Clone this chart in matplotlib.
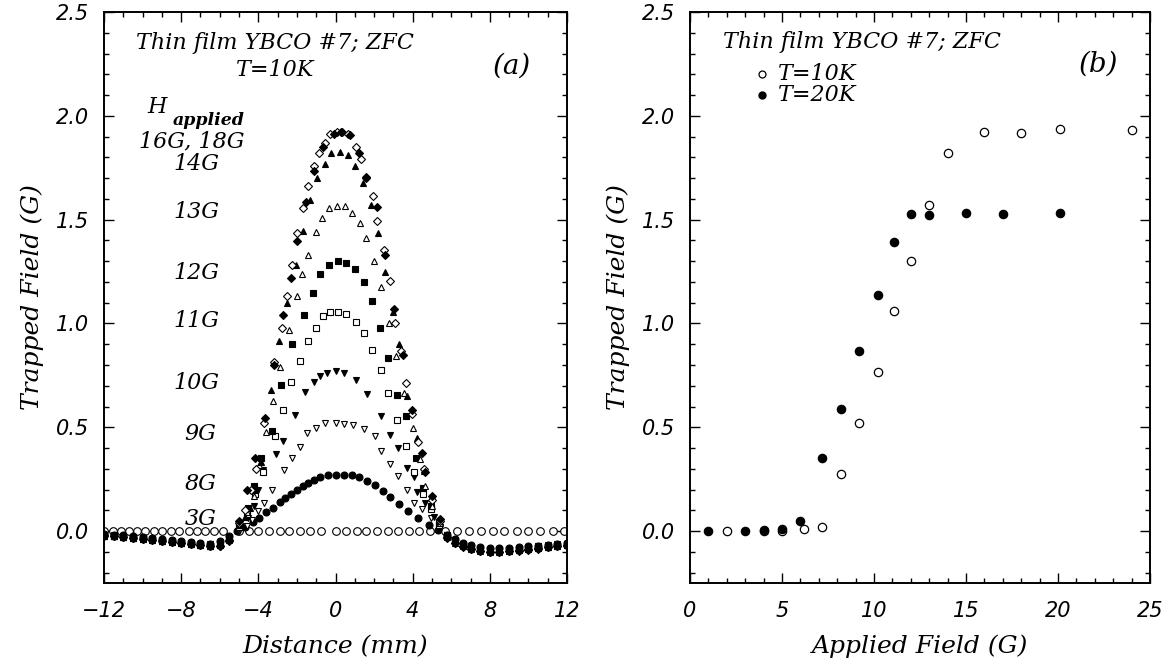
import matplotlib
matplotlib.use("Agg")
import matplotlib.pyplot as plt
from matplotlib.ticker import MultipleLocator

FONT = "DejaVu Serif"
TICKFONT = "DejaVu Sans"

# ---------------- Panel (a) data: trapped-field profiles ----------------
TAIL_L_X = [-12.0, -11.5, -11.0, -10.5, -10.0, -9.5, -9.0, -8.5, -8.0, -7.5, -7.0, -6.5, -6.0, -5.5]
TAIL_R_X = [5.8, 6.2, 6.6, 7.0, 7.5, 8.0, 8.5, 9.0, 9.5, 10.0, 10.5, 11.0, 11.5, 12.0]

g3_x = [-12.0, -11.55, -11.1, -10.7, -10.3, -9.85, -9.4, -9.0, -8.55, -8.1, -7.6, -7.2, -6.75, -6.3,
        -5.85, -5.0, -4.5, -4.0, -3.45, -2.9, -2.4, -1.85, -1.3, -0.75, 0.0, 0.55, 1.1, 1.6, 2.15,
        2.7, 3.25, 3.8, 4.35, 4.9, 5.7, 6.3, 6.9, 7.55, 8.15, 8.75, 9.4, 10.0, 10.6, 11.25, 11.85]
g3_y = [0.0] * 45

g8_x = [-5.1, -4.7, -4.3, -3.95, -3.6, -3.25, -2.9, -2.6, -2.3, -2.0, -1.7, -1.4, -1.1, -0.8, -0.4,
        0.0, 0.45, 0.85, 1.2, 1.65, 2.05, 2.45, 2.85, 3.3, 3.75, 4.3, 4.85, 5.3]
g8_y = [0.0, 0.02, 0.045, 0.065, 0.09, 0.112, 0.14, 0.16, 0.18, 0.2, 0.217, 0.232, 0.248, 0.26, 0.268,
        0.27, 0.272, 0.268, 0.262, 0.24, 0.221, 0.192, 0.165, 0.131, 0.096, 0.061, 0.03, 0.005]
g8_tl = [-0.015, -0.017, -0.02, -0.024, -0.028, -0.032, -0.037, -0.042, -0.047, -0.052, -0.057, -0.06, -0.05, -0.025]
g8_tr = [-0.02, -0.04, -0.055, -0.065, -0.075, -0.08, -0.082, -0.08, -0.077, -0.073, -0.07, -0.066, -0.062, -0.058]

g9_x = [-5.0, -4.6, -4.34, -4.02, -3.69, -3.29, -2.68, -2.24, -1.86, -1.47, -1.0, -0.52, 0.0, 0.44,
        0.92, 1.5, 2.07, 2.35, 2.8, 3.25, 3.7, 4.08, 4.5, 4.94, 5.4]
g9_y = [0.0, 0.025, 0.053, 0.096, 0.136, 0.196, 0.296, 0.353, 0.405, 0.473, 0.497, 0.52, 0.52, 0.518,
        0.51, 0.49, 0.457, 0.385, 0.325, 0.264, 0.196, 0.136, 0.104, 0.064, 0.02]
g9_tl = [-0.018, -0.02, -0.023, -0.027, -0.031, -0.036, -0.041, -0.046, -0.051, -0.056, -0.061, -0.064, -0.055, -0.03]
g9_tr = [-0.025, -0.045, -0.06, -0.07, -0.08, -0.085, -0.086, -0.084, -0.08, -0.076, -0.072, -0.068, -0.064, -0.06]

g10_x = [-5.0, -4.54, -4.25, -4.0, -3.77, -3.1, -2.72, -2.1, -1.57, -1.09, -0.8, -0.42, 0.0, 0.44,
         1.05, 1.65, 2.35, 2.8, 3.25, 3.7, 4.08, 4.23, 4.65, 5.1, 5.4]
g10_y = [0.01, 0.064, 0.12, 0.2, 0.296, 0.369, 0.433, 0.56, 0.67, 0.72, 0.745, 0.76, 0.77, 0.76,
         0.73, 0.66, 0.556, 0.465, 0.40, 0.304, 0.26, 0.19, 0.136, 0.07, 0.02]
g10_tl = [-0.02, -0.022, -0.025, -0.029, -0.033, -0.038, -0.043, -0.048, -0.053, -0.058, -0.063, -0.067, -0.06, -0.035]
g10_tr = [-0.02, -0.045, -0.062, -0.074, -0.085, -0.09, -0.09, -0.088, -0.084, -0.079, -0.074, -0.07, -0.066, -0.062]

g11_x = [-5.0, -4.6, -4.15, -3.77, -3.14, -2.72, -2.3, -1.86, -1.44, -1.03, -0.65, -0.27, 0.11, 0.57,
         1.07, 1.49, 1.88, 2.35, 2.74, 3.21, 3.64, 4.08, 4.55, 4.94, 5.35]
g11_y = [0.02, 0.08, 0.18, 0.285, 0.457, 0.585, 0.716, 0.82, 0.917, 0.978, 1.034, 1.053, 1.055, 1.045,
         1.005, 0.953, 0.873, 0.777, 0.665, 0.534, 0.412, 0.285, 0.18, 0.104, 0.03]
g11_tl = [-0.02, -0.023, -0.026, -0.03, -0.034, -0.039, -0.044, -0.049, -0.054, -0.059, -0.064, -0.068, -0.062, -0.035]
g11_tr = [-0.02, -0.045, -0.064, -0.077, -0.088, -0.093, -0.093, -0.09, -0.086, -0.081, -0.076, -0.071, -0.067, -0.063]

g12_x = [-5.0, -4.54, -4.25, -3.84, -3.3, -2.81, -2.24, -1.63, -1.19, -0.8, -0.36, 0.11, 0.57, 1.02,
         1.49, 1.88, 2.3, 2.7, 3.21, 3.64, 4.17, 4.55, 4.95, 5.35]
g12_y = [0.03, 0.11, 0.216, 0.35, 0.48, 0.705, 0.90, 1.04, 1.147, 1.236, 1.28, 1.30, 1.293, 1.264,
         1.2, 1.107, 0.98, 0.833, 0.654, 0.553, 0.353, 0.208, 0.12, 0.04]
g12_tl = [-0.021, -0.024, -0.027, -0.031, -0.035, -0.04, -0.045, -0.05, -0.055, -0.06, -0.065, -0.07, -0.064, -0.038]
g12_tr = [-0.025, -0.05, -0.067, -0.08, -0.09, -0.095, -0.095, -0.092, -0.088, -0.083, -0.078, -0.073, -0.068, -0.064]

g13_x = [-5.0, -4.6, -4.25, -3.96, -3.58, -3.23, -2.87, -2.43, -2.01, -1.76, -1.44, -1.03, -0.71, -0.36,
         0.06, 0.48, 0.84, 1.25, 1.59, 1.97, 2.36, 2.78, 3.16, 3.56, 4.02, 4.36, 4.65, 5.0, 5.4]
g13_y = [0.03, 0.09, 0.168, 0.32, 0.478, 0.628, 0.788, 0.97, 1.131, 1.236, 1.33, 1.44, 1.506, 1.555,
         1.568, 1.566, 1.534, 1.485, 1.41, 1.30, 1.175, 1.0, 0.841, 0.665, 0.497, 0.345, 0.216, 0.12, 0.04]
g13_tl = [-0.022, -0.025, -0.028, -0.032, -0.036, -0.041, -0.046, -0.051, -0.056, -0.061, -0.066, -0.071, -0.066, -0.04]
g13_tr = [-0.025, -0.05, -0.068, -0.082, -0.092, -0.097, -0.097, -0.094, -0.09, -0.085, -0.08, -0.075, -0.07, -0.066]

g14_x = [-5.0, -4.7, -4.44, -4.15, -3.87, -3.35, -2.91, -2.53, -2.05, -1.7, -1.32, -0.94, -0.52, -0.23,
         0.21, 0.63, 1.02, 1.44, 1.82, 2.2, 2.59, 2.99, 3.3, 3.7, 4.23, 4.6, 5.0, 5.4]
g14_y = [0.03, 0.07, 0.112, 0.2, 0.333, 0.68, 0.917, 1.097, 1.28, 1.447, 1.595, 1.70, 1.77, 1.819,
         1.825, 1.81, 1.76, 1.676, 1.571, 1.434, 1.247, 1.053, 0.9, 0.649, 0.449, 0.29, 0.168, 0.06]
g14_tl = [-0.022, -0.025, -0.029, -0.033, -0.037, -0.042, -0.047, -0.052, -0.057, -0.062, -0.067, -0.072, -0.068, -0.042]
g14_tr = [-0.03, -0.055, -0.072, -0.085, -0.095, -0.1, -0.1, -0.097, -0.092, -0.087, -0.082, -0.077, -0.072, -0.068]

g16_x = [-5.0, -4.7, -4.4, -4.1, -3.7, -3.2, -2.78, -2.53, -2.24, -2.01, -1.67, -1.42, -1.13, -0.84,
         -0.55, -0.29, 0.06, 0.35, 0.63, 1.05, 1.3, 1.6, 1.92, 2.16, 2.51, 2.8, 3.1, 3.37, 3.64, 3.98,
         4.27, 4.6, 5.0, 5.4]
g16_y = [0.04, 0.1, 0.2, 0.3, 0.52, 0.814, 0.976, 1.134, 1.28, 1.434, 1.555, 1.66, 1.757, 1.82,
         1.867, 1.911, 1.924, 1.92, 1.911, 1.85, 1.793, 1.7, 1.612, 1.494, 1.353, 1.204, 1.0, 0.869,
         0.713, 0.564, 0.43, 0.3, 0.15, 0.05]
g16_tl = [-0.02, -0.024, -0.028, -0.032, -0.037, -0.042, -0.047, -0.052, -0.057, -0.062, -0.068, -0.073, -0.07, -0.045]
g16_tr = [-0.03, -0.055, -0.073, -0.086, -0.096, -0.1, -0.1, -0.098, -0.093, -0.088, -0.083, -0.078, -0.073, -0.069]

g18_x = [-5.0, -4.6, -4.15, -3.64, -3.2, -2.7, -2.3, -2.01, -1.53, -1.09, -0.65, -0.1, 0.31, 0.73,
         1.21, 1.59, 2.16, 2.55, 3.05, 3.5, 3.98, 4.46, 4.65, 5.0, 5.4]
g18_y = [0.05, 0.2, 0.353, 0.545, 0.8, 1.04, 1.22, 1.398, 1.587, 1.733, 1.851, 1.911, 1.922, 1.91,
         1.819, 1.705, 1.56, 1.33, 1.07, 0.85, 0.585, 0.377, 0.285, 0.17, 0.06]
g18_tl = [-0.023, -0.026, -0.03, -0.034, -0.038, -0.043, -0.048, -0.053, -0.058, -0.063, -0.069, -0.074, -0.071, -0.046]
g18_tr = [-0.032, -0.057, -0.075, -0.088, -0.098, -0.102, -0.101, -0.098, -0.094, -0.089, -0.084, -0.079, -0.074, -0.07]

# ---------------- Panel (b) data: trapped field vs applied field ----------------
t10_field = [2.0, 4.0, 5.0, 6.2, 7.2, 8.2, 9.2, 10.2, 11.1, 12.0, 13.0, 14.0, 16.0, 18.0, 20.1, 24.0]
t10_trap = [0.0, 0.0, 0.0, 0.01, 0.022, 0.274, 0.52, 0.764, 1.058, 1.30, 1.57, 1.82, 1.92, 1.915, 1.935, 1.93]
t20_field = [1.0, 3.0, 4.0, 5.0, 6.0, 7.2, 8.2, 9.2, 10.2, 11.1, 12.0, 13.0, 15.0, 17.0, 20.1]
t20_trap = [0.0, 0.0, 0.005, 0.008, 0.05, 0.354, 0.59, 0.868, 1.137, 1.39, 1.525, 1.52, 1.53, 1.525, 1.53]

y_ticks = [0.0, 0.5, 1.0, 1.5, 2.0, 2.5]
y_ticklabels = ["0.0", "0.5", "1.0", "1.5", "2.0", "2.5"]
xa_ticks = [-12, -8, -4, 0, 4, 8, 12]
xa_ticklabels = ["\u221212", "\u22128", "\u22124", "0", "4", "8", "12"]
xb_ticks = [0, 5, 10, 15, 20, 25]
xb_ticklabels = ["0", "5", "10", "15", "20", "25"]

# ---------------- Figure ----------------
fig = plt.figure(figsize=(11.72, 6.59), dpi=100)
axa = fig.add_axes([104 / 1172, 76 / 659, 463 / 1172, 571 / 659])
axb = fig.add_axes([690 / 1172, 76 / 659, 460 / 1172, 571 / 659])

tickfont = dict(family=TICKFONT, style="italic", size=15)


def style_axes(ax):
    for sp in ax.spines.values():
        sp.set_linewidth(1.4)
    ax.tick_params(which="both", direction="in", top=True, right=True, width=1.0)
    ax.tick_params(axis="y", which="major", length=7, pad=11)
    ax.tick_params(axis="x", which="major", length=7, pad=13)
    ax.tick_params(which="minor", length=3.5)
    ax.yaxis.set_minor_locator(MultipleLocator(0.1))
    ax.set_ylim(-0.25, 2.5)
    ax.set_yticks(y_ticks)
    ax.set_yticklabels(y_ticklabels, **tickfont)


def plot_series(ax, x, y, marker, filled, ms=5.0):
    ax.plot(x, y, linestyle="none", marker=marker, ms=ms,
            markerfacecolor="black" if filled else "white",
            markeredgecolor="black", markeredgewidth=0.8)


series = [
    (g8_x, g8_y, g8_tl, g8_tr, "o", True),
    (g9_x, g9_y, g9_tl, g9_tr, "v", False),
    (g10_x, g10_y, g10_tl, g10_tr, "v", True),
    (g11_x, g11_y, g11_tl, g11_tr, "s", False),
    (g12_x, g12_y, g12_tl, g12_tr, "s", True),
    (g13_x, g13_y, g13_tl, g13_tr, "^", False),
    (g14_x, g14_y, g14_tl, g14_tr, "^", True),
    (g16_x, g16_y, g16_tl, g16_tr, "D", False),
    (g18_x, g18_y, g18_tl, g18_tr, "D", True),
]
plot_series(axa, g3_x, g3_y, "o", False, ms=5.5)
for cx, cy, tl, tr, mk, filled in series:
    xs = TAIL_L_X + cx + TAIL_R_X
    ys = tl + cy + tr
    ms = 4.2 if mk in ("D", "s") else 5.0
    plot_series(axa, xs, ys, mk, filled, ms=ms)

axa.set_xlim(-12, 12)
axa.xaxis.set_minor_locator(MultipleLocator(1))
style_axes(axa)
axa.set_xticks(xa_ticks)
axa.set_xticklabels(xa_ticklabels, **tickfont)

labfont = dict(family=FONT, style="italic", size=18)
axa.set_xlabel("Distance (mm)", labelpad=10, **labfont)
axa.set_ylabel("Trapped Field (G)", labelpad=8, **labfont)

txt = dict(family=FONT, style="italic", size=16)
axa.text(-3.15, 2.35, "Thin film YBCO #7; ZFC", ha="center", va="center", **txt)
axa.text(-3.15, 2.22, "T=10K", ha="center", va="center", **txt)
axa.text(9.15, 2.24, "(a)", ha="center", va="center", family=FONT, style="italic", size=20)
axa.text(-9.75, 2.015, "H", ha="left", va="baseline", family=FONT, style="italic", size=16)
axa.text(-8.45, 1.955, "applied", ha="left", va="baseline", family=FONT, style="italic",
         weight="bold", size=12.5)
field_labels = ["16G, 18G", "14G", "13G", "12G", "11G", "10G", "9G", "8G", "3G"]
field_label_y = [1.875, 1.77, 1.535, 1.245, 1.01, 0.715, 0.47, 0.228, 0.06]
field_label_x = [-7.45, -7.2, -7.2, -7.2, -7.2, -7.2, -7.0, -7.0, -7.0]
for lab, xx, yy in zip(field_labels, field_label_x, field_label_y):
    axa.text(xx, yy, lab, ha="center", va="center", **txt)

# panel (b)
axb.plot(t10_field, t10_trap, linestyle="none", marker="o", ms=6, markerfacecolor="white",
         markeredgecolor="black", markeredgewidth=0.9)
axb.plot(t20_field, t20_trap, linestyle="none", marker="o", ms=6, markerfacecolor="black",
         markeredgecolor="black", markeredgewidth=0.9)
axb.set_xlim(0, 25)
axb.xaxis.set_minor_locator(MultipleLocator(1))
style_axes(axb)
axb.set_xticks(xb_ticks)
axb.set_xticklabels(xb_ticklabels, **tickfont)
axb.set_xlabel("Applied Field (G)", labelpad=10, **labfont)
axb.set_ylabel("Trapped Field (G)", labelpad=8, **labfont)

axb.text(1.8, 2.355, "Thin film YBCO #7; ZFC", ha="left", va="center", **txt)
axb.plot([3.9], [2.2], linestyle="none", marker="o", ms=5, markerfacecolor="white",
         markeredgecolor="black", markeredgewidth=0.9)
axb.plot([3.9], [2.1], linestyle="none", marker="o", ms=5, markerfacecolor="black",
         markeredgecolor="black")
axb.text(4.8, 2.2, "T=10K", ha="left", va="center", **txt)
axb.text(4.8, 2.1, "T=20K", ha="left", va="center", **txt)
axb.text(22.2, 2.25, "(b)", ha="center", va="center", family=FONT, style="italic", size=20)

fig.savefig("out.png", dpi=100)
